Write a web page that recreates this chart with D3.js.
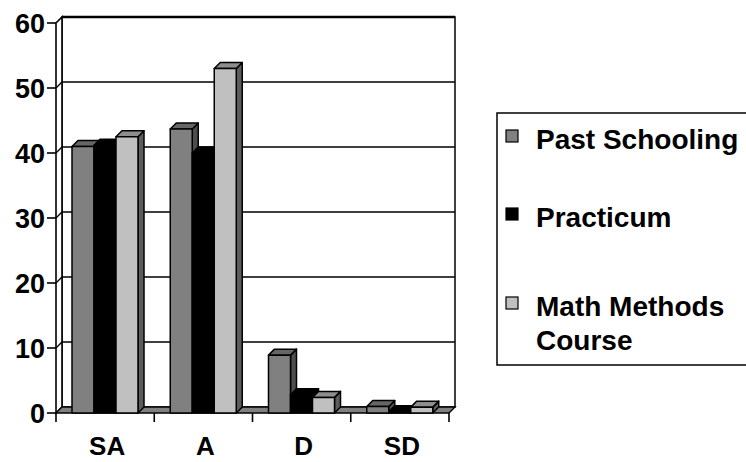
<!DOCTYPE html>
<html>
<head>
<meta charset="utf-8">
<script src="https://cdn.jsdelivr.net/npm/d3@7"></script>
<style>
  body { margin: 0; background: #fff; }
  svg { display: block; }
  text { font-family: "Liberation Sans", Arial, sans-serif; font-weight: bold; fill: #000; }
</style>
</head>
<body>
<svg id="chart" width="746" height="462"></svg>
<script>
const categories = ['SA', 'A', 'D', 'SD']
const seriesNames = ['Past Schooling', 'Practicum', 'Math Methods Course']
const pastSchooling = [41, 43.7, 8.9, 1]
const practicum = [41.2, 40, 2.8, 0.2]
const mathMethods = [42.5, 53, 2.4, 0.9]
const yTicks = [0, 10, 20, 30, 40, 50, 60]

const series = [pastSchooling, practicum, mathMethods]
// front, top, side shades for each series
const shades = [
    ['#808080', '#666666', '#4d4d4d'],
    ['#000000', '#000000', '#000000'],
    ['#c0c0c0', '#8e8e8e', '#5c5c5c']
]

const dx = 6, dy = 6   // depth offset of the 3d box
const svg = d3.select('#chart')

const y = d3.scaleLinear().domain([0, 60]).range([413, 23])
const x0 = d3.scaleBand().domain(categories).range([56, 449])
const x1 = d3.scaleBand().domain(d3.range(series.length)).range([16, 82])

const left = x0.range()[0], right = x0.range()[1]

// back wall
svg.append('rect')
    .attr('x', left + dx).attr('y', y(60) - dy)
    .attr('width', right - left).attr('height', y(0) - y(60))
    .attr('fill', '#fff').attr('stroke', '#000').attr('stroke-width', 1.5)
svg.append('line')
    .attr('x1', left + dx).attr('x2', right + dx)
    .attr('y1', y(60) - dy).attr('y2', y(60) - dy)
    .attr('stroke', '#000').attr('stroke-width', 2.5)

// left wall
svg.append('path')
    .attr('d', `M${left},${y(0)}L${left},${y(60)}L${left + dx},${y(60) - dy}L${left + dx},${y(0) - dy}Z`)
    .attr('fill', '#fff').attr('stroke', '#000').attr('stroke-width', 1.6)

// gridlines
svg.selectAll('.grid')
    .data(yTicks.filter(d => d > 0 && d < 60))
    .enter()
    .append('path')
    .attr('d', d => `M${left},${y(d)}L${left + dx},${y(d) - dy}L${right + dx},${y(d) - dy}`)
    .attr('fill', 'none').attr('stroke', '#000').attr('stroke-width', 1.3)

// floor
svg.append('path')
    .attr('d', `M${left},${y(0)}L${right},${y(0)}L${right + dx},${y(0) - dy}L${left + dx},${y(0) - dy}Z`)
    .attr('fill', '#808080').attr('stroke', '#000').attr('stroke-width', 1.4)

// y axis ticks + labels
const yAxis = svg.append('g')
yAxis.selectAll('line')
    .data(yTicks).enter().append('line')
    .attr('x1', left - 9).attr('x2', left)
    .attr('y1', d => y(d)).attr('y2', d => y(d))
    .attr('stroke', '#000').attr('stroke-width', 1.6)
yAxis.selectAll('text')
    .data(yTicks).enter().append('text')
    .attr('x', left - 11).attr('y', d => y(d))
    .attr('dy', '0.36em')
    .attr('text-anchor', 'end')
    .attr('font-size', 27)
    .text(d => d)

// x axis ticks + labels
const xTicks = categories.map(c => x0(c)).concat([right])
svg.selectAll('.xtick')
    .data(xTicks).enter().append('line')
    .attr('x1', d => d).attr('x2', d => d)
    .attr('y1', y(0)).attr('y2', y(0) + 9)
    .attr('stroke', '#000').attr('stroke-width', 1.6)
svg.selectAll('.xlabel')
    .data(categories).enter().append('text')
    .attr('x', d => x0(d) + x0.bandwidth() / 2 + 2)
    .attr('y', 455)
    .attr('text-anchor', 'middle')
    .attr('font-size', 26)
    .text(d => d)

// bars, drawn left to right so each front hides the previous side
function bar3d(g, bx, w, v, c) {
    const yt = y(v), yb = y(0)
    g.append('path')
        .attr('d', `M${bx + w},${yt}L${bx + w + dx},${yt - dy}L${bx + w + dx},${yb - dy}L${bx + w},${yb}Z`)
        .attr('fill', c[2])
    g.append('path')
        .attr('d', `M${bx},${yt}L${bx + dx},${yt - dy}L${bx + w + dx},${yt - dy}L${bx + w},${yt}Z`)
        .attr('fill', c[1])
    g.append('rect')
        .attr('x', bx).attr('y', yt)
        .attr('width', w).attr('height', yb - yt)
        .attr('fill', c[0])
    g.selectAll('*').attr('stroke', '#000').attr('stroke-width', 1.5).attr('stroke-linejoin', 'round')
}

const bars = svg.append('g')
categories.forEach((cat, i) => {
    series.forEach((s, j) => {
        bar3d(bars.append('g'), x0(cat) + x1(j), x1.bandwidth(), s[i], shades[j])
    })
})

// legend
const legend = svg.append('g')
legend.append('rect')
    .attr('x', 497).attr('y', 113).attr('width', 300).attr('height', 252)
    .attr('fill', '#fff').attr('stroke', '#000').attr('stroke-width', 1.5)
const legendRows = [
    { lines: ['Past Schooling'], top: 130 },
    { lines: ['Practicum'], top: 208 },
    { lines: ['Math Methods', 'Course'], top: 297 }
]
legendRows.forEach((r, i) => {
    legend.append('rect')
        .attr('x', 506).attr('y', r.top)
        .attr('width', 12).attr('height', 12)
        .attr('fill', shades[i][0]).attr('stroke', '#000').attr('stroke-width', 1.2)
    r.lines.forEach((t, k) => {
        legend.append('text')
            .attr('x', 536).attr('y', r.top + 19 + k * 34)
            .attr('font-size', 28)
            .text(t)
    })
})
</script>
</body>
</html>
